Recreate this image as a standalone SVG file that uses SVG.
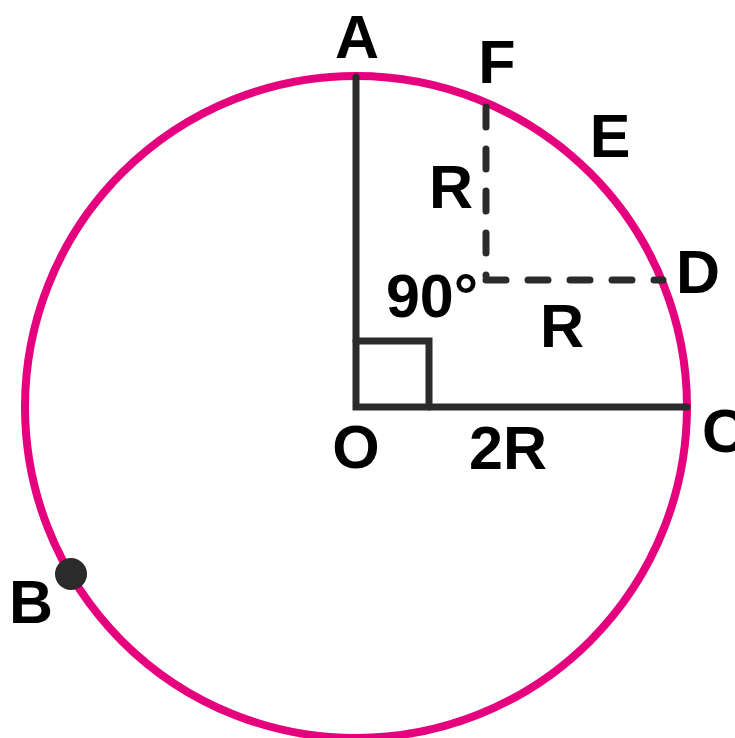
<svg xmlns="http://www.w3.org/2000/svg" width="735" height="738" viewBox="0 0 735 738">
<style>
.lbl{font-family:"Liberation Sans",Arial,sans-serif;font-weight:bold;font-size:61px;fill:#000;text-anchor:middle}
.ln{stroke:#2b2b2b;stroke-width:7;fill:none;stroke-linecap:round}
.dash{stroke:#2b2b2b;stroke-width:7;fill:none;stroke-linecap:round;stroke-dasharray:20 22}
</style>
<rect width="735" height="738" fill="#fff"/>
<g id="circle"><circle cx="356" cy="407" r="331" fill="none" stroke="#e5007d" stroke-width="8"/></g>
<g id="connectors">
<path class="ln" d="M356 77V407H687"/>
<path class="ln" d="M356 341H429V407" stroke-linecap="butt"/>
<path class="dash" d="M486 107V276"/>
<path class="dash" d="M486 280H663"/>
</g>
<g id="B"><circle cx="71" cy="574" r="16" fill="#2b2b2b"/><text class="lbl" x="31" y="623">B</text></g>
<g id="A"><text class="lbl" x="357" y="58">A</text></g>
<g id="F"><text class="lbl" x="497" y="83">F</text></g>
<g id="E"><text class="lbl" x="610" y="157">E</text></g>
<g id="D"><text class="lbl" x="698" y="293">D</text></g>
<g id="C"><text class="lbl" x="724" y="452">C</text></g>
<g id="O"><text class="lbl" x="356" y="468">O</text></g>
<g id="labels">
<text class="lbl" x="451" y="208">R</text>
<text class="lbl" x="432" y="317">90°</text>
<text class="lbl" x="562" y="347">R</text>
<text class="lbl" x="508" y="469">2R</text>
</g>
</svg>
